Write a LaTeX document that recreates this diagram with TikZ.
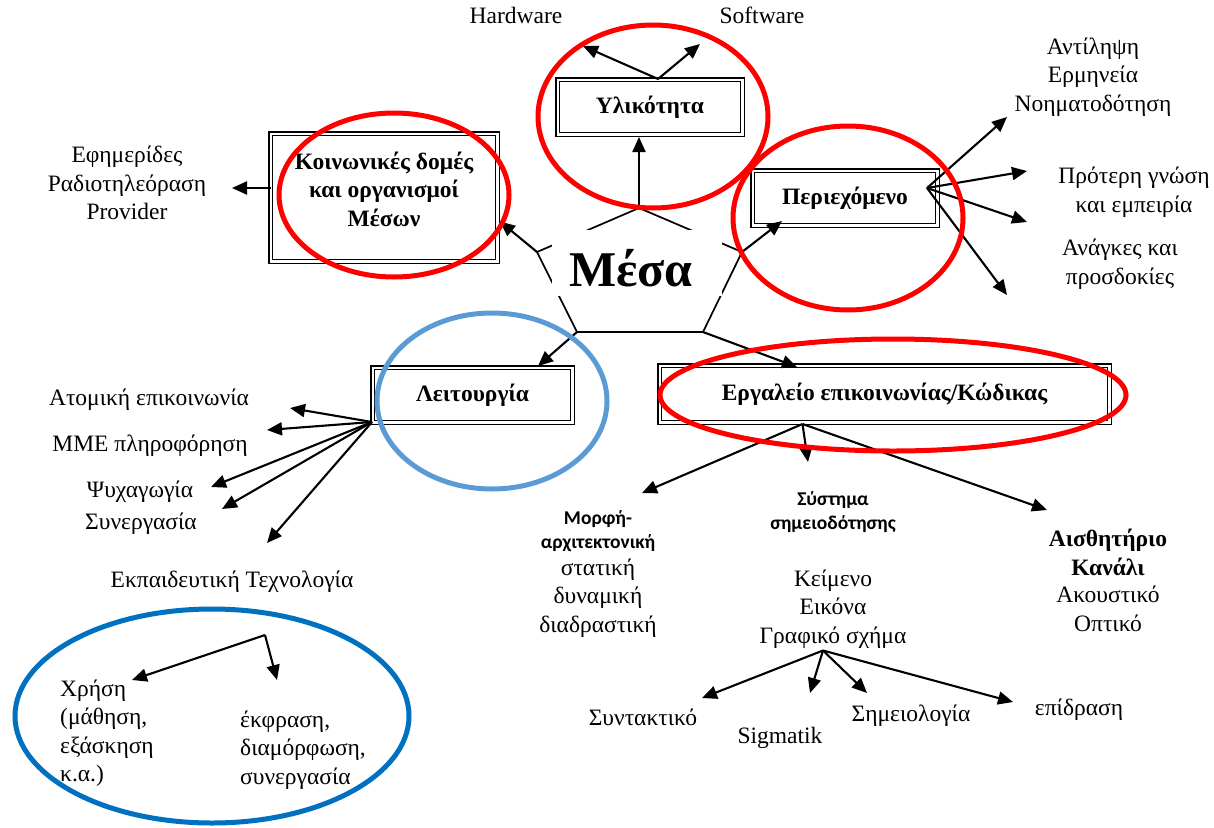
\documentclass[tikz,border=0pt]{standalone}
\usepackage{fontspec}
\setmainfont{Liberation Serif}
\newfontfamily\calfont{Carlito}
\usetikzlibrary{arrows.meta,calc}
\definecolor{myred}{RGB}{255,0,0}
\definecolor{lblue}{RGB}{91,155,213}
\definecolor{dblue}{RGB}{0,112,192}
\begin{document}
\begin{tikzpicture}[x=1pt,y=-1pt,
  txt/.style={inner sep=0pt, align=center, font=\fontsize{23.5}{28.5}\selectfont},
  btxt/.style={inner sep=0pt, align=center, font=\fontsize{23.5}{28.5}\selectfont\bfseries},
  stxt/.style={inner sep=0pt, align=center, font=\calfont\fontsize{19.5}{24.5}\selectfont\bfseries},
  dbox/.style={draw, double, line width=1.5pt, double distance=2.3pt, outer sep=2.65pt, inner sep=0pt, btxt},
  arr/.style={line width=2.1pt, -{Triangle[length=15pt,width=13pt]}},
  pent/.style={line width=1.7pt},
  ring/.style={line width=5pt},
]
\useasboundingbox (0,0) rectangle (1214,827);

% pentagon around "Mesa"
\coordinate (pA) at (639,208);
\coordinate (pR) at (742,252);
\coordinate (pBR) at (703,332);
\coordinate (pBL) at (577,332);
\coordinate (pL) at (537,252);
\draw[pent] (pA) -- (pR) -- (pBR) -- (pBL) -- (pL) -- cycle;
\node[fill=white, minimum width=170pt, minimum height=66pt, inner sep=0pt] (mask) at (637,263) {};
\node[inner sep=0pt, font=\fontsize{50}{60}\selectfont\bfseries] (mesa) at (631,268) {Μέσα};

% boxes
\node[dbox, minimum width=184.7pt, minimum height=54.7pt] (ylik) at (650,107) {Υλικότητα};
\node[dbox, minimum width=226.7pt, minimum height=127.7pt] (koin) at (384,197.5) {};
\node[btxt] (koinT) at (384,189) {Κοινωνικές δομές\\και οργανισμοί\\Μέσων};
\node[dbox, minimum width=184.7pt, minimum height=54.7pt] (peri) at (845,198) {Περιεχόμενο};
\node[dbox, minimum width=199.7pt, minimum height=54.7pt] (leit) at (472.5,395) {Λειτουργία};
\node[dbox, minimum width=449.7pt, minimum height=56.7pt] (erg) at (884.5,394) {Εργαλείο επικοινωνίας/Κώδικας};

% texts
\node[txt] (hw) at (516,15.5) {Hardware};
\node[txt] (sw) at (762,15.5) {Software};
\node[txt] (efi) at (127,183) {Εφημερίδες\\Ραδιοτηλεόραση\\Provider};
\node[txt] (ant) at (1093,77) {Αντίληψη\\Ερμηνεία\\Νοηματοδότηση};
\node[txt] (pro) at (1134,192) {Πρότερη γνώση\\και εμπειρία};
\node[txt] (ana) at (1120,264) {Ανάγκες και\\προσδοκίες};
\node[txt] (ato) at (149,400) {Ατομική επικοινωνία};
\node[txt] (mme) at (150,446) {ΜΜΕ πληροφόρηση};
\node[txt] (psy) at (140,492) {Ψυχαγωγία};
\node[txt] (syn) at (141,524) {Συνεργασία};
\node[txt] (ekp) at (232,582) {Εκπαιδευτική Τεχνολογία};
\node[stxt] (sys) at (833,512) {Σύστημα\\σημειοδότησης};
\node[stxt] (mor) at (598,531) {Μορφή-\\αρχιτεκτονική};
\node[txt] (sta) at (598,598) {στατική\\δυναμική\\διαδραστική};
\node[btxt, font=\fontsize{23.5}{29}\selectfont\bfseries] (ais) at (1108,552) {Αισθητήριο\\Κανάλι};
\node[txt] (ako) at (1108,609) {Ακουστικό\\Οπτικό};
\node[txt] (kei) at (833,609) {Κείμενο\\Εικόνα\\Γραφικό σχήμα};
\node[txt] (synt) at (643,717) {Συντακτικό};
\node[txt] (sig) at (780,738) {Sigmatik};
\node[txt] (sim) at (911,716) {Σημειολογία};
\node[txt] (epi) at (1079,710) {επίδραση};
\node[txt, align=left, anchor=west] (xri) at (60,733) {Χρήση\\(μάθηση,\\εξάσκηση\\κ.α.)};
\node[txt, align=left, anchor=west] (ekf) at (240,750) {έκφραση,\\διαμόρφωση,\\συνεργασία};

% arrows from the pentagon
\draw[arr] (pA) -- ($(ylik.south)+(-11,0)$);
\draw[arr] (pL) -- ($(koin.east)+(0,24)$);
\draw[arr] (pR) -- ($(peri.south west)+(32,-7)$);
\draw[arr] (pBL) -- ($(leit.north east)+(-37,1)$);
\draw[arr] (pBR) -- ($(erg.north west)+(140,4)$);

% Ylikotita
\coordinate (hwT) at (583,46);
\coordinate (swT) at (700,44);
\draw[arr] ($(ylik.north)+(8,2)$) -- (hwT);
\draw[arr] ($(ylik.north)+(8,2)$) -- (swT);

% Koinonikes
\coordinate (efT) at (232,188);
\draw[arr] ($(koin.west)+(3,-9.5)$) -- (efT);

% Periexomeno
\coordinate (pe1) at (1007,117);
\coordinate (pe2) at (1027,171);
\coordinate (pe3) at (1027,222);
\coordinate (pe4) at (1007,295);
\foreach \t in {pe1,pe2,pe3,pe4}
  \draw[arr] ($(peri.east)+(-13,-10)$) -- (\t);

% Leitourgia
\coordinate (le1) at (290,408);
\coordinate (le2) at (267,430);
\coordinate (le3) at (211,487);
\coordinate (le4) at (222,509);
\coordinate (le5) at (267,543);
\foreach \t in {le1,le2,le3,le4,le5}
  \draw[arr] ($(leit.south west)+(2,-3)$) -- (\t);

% Ergaleio
\coordinate (er1) at (642,493);
\coordinate (er2) at (808,462);
\coordinate (er3) at (1047,510);
\foreach \t in {er1,er2,er3}
  \draw[arr] ($(erg.south)+(-82,-1)$) -- (\t);

% Grafiko schima
\coordinate (gr1) at (702,698);
\coordinate (gr2) at (810,693);
\coordinate (gr3) at (867,693);
\coordinate (gr4) at (1013,702);
\foreach \t in {gr1,gr2,gr3,gr4}
  \draw[arr] ($(kei.south)+(-10,2)$) -- (\t);

% inside blue ellipse
\coordinate (eo) at (265,635);
\coordinate (xT) at (132,680);
\coordinate (kT) at (277,680);
\draw[arr] (eo) -- (xT);
\draw[arr] (eo) -- (kT);

% rings
\draw[ring, myred] (653,116.5) ellipse [x radius=115, y radius=91.5];
\draw[ring, myred] (394,195) ellipse [x radius=115, y radius=82];
\draw[ring, myred] (848,218) ellipse [x radius=115, y radius=92];
\draw[ring, myred] (893,395) ellipse [x radius=233, y radius=56];
\draw[ring, lblue] (492,401) ellipse [x radius=115, y radius=88];
\draw[ring, dblue] (212,716) ellipse [x radius=197, y radius=107];
\end{tikzpicture}
\end{document}
